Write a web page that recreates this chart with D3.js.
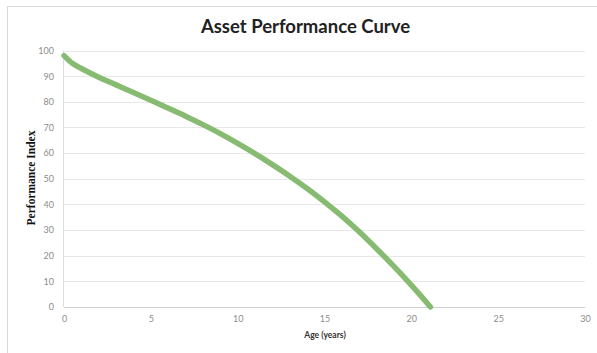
<!DOCTYPE html>
<html><head><meta charset="utf-8">
<script src="https://cdn.jsdelivr.net/npm/d3@7"></script>
<style>html,body{margin:0;padding:0;background:#fff;overflow:hidden}</style>
</head><body>
<svg id="c" width="597" height="353"></svg>
<script>
const ages =   [0, 0.5, 1, 2, 3, 4, 5, 6, 7, 8, 9, 10, 11, 12, 13, 14, 15, 16, 17, 18, 19, 20, 21, 21.1];
const perf =   [98, 94.9, 93.0, 89.6, 86.6, 83.6, 80.6, 77.5, 74.4, 71.1, 67.6, 63.8, 59.8, 55.5, 51.0, 46.2, 41.0, 35.4, 29.3, 22.7, 15.8, 8.5, 0.8, 0];
const xTicks = [0, 5, 10, 15, 20, 25, 30];
const yTicks = [0, 10, 20, 30, 40, 50, 60, 70, 80, 90, 100];
const title = "Asset Performance Curve";
const xTitle = "Age (years)";
const yTitle = "Performance Index";

const data = ages.map((a, i) => ({a, v: perf[i]}));
const svg = d3.select("#c");
const x = d3.scaleLinear().domain([0, 30]).range([64, 585]);
const y = d3.scaleLinear().domain([0, 100]).range([307, 50.5]);

// chart border
svg.append("rect").attr("x", 7.5).attr("y", 6.5).attr("width", 600).attr("height", 360)
  .attr("fill", "#fff").attr("stroke", "#d9d9d9").attr("stroke-width", 1);

// gridlines
svg.append("g").selectAll("line").data(yTicks).join("line")
  .attr("x1", x(0)).attr("x2", x(30))
  .attr("y1", d => Math.round(y(d)) + 0.5).attr("y2", d => Math.round(y(d)) + 0.5)
  .attr("stroke", d => d === 0 ? "#d0d0d0" : "#e8e8e8").attr("stroke-width", 1);
svg.append("line").attr("x1", x(0) - 0.5).attr("x2", x(0) - 0.5).attr("y1", y(100)).attr("y2", y(0))
  .attr("stroke", "#dcdcdc");

// axes labels via d3 axes
const yAxis = svg.append("g").attr("transform", `translate(${x(0)},0)`)
  .call(d3.axisLeft(y).tickValues(yTicks).tickSize(0).tickPadding(10));
const xAxis = svg.append("g").attr("transform", `translate(0,${y(0)})`)
  .call(d3.axisBottom(x).tickValues(xTicks).tickSize(0).tickPadding(9));
[yAxis, xAxis].forEach(g => {
  g.select(".domain").remove();
  g.selectAll("text").attr("fill", "#8c8c8c").style("font-family", "Lato, 'Open Sans', sans-serif").style("font-size", "9px");
});

// line
const line = d3.line().x(d => x(d.a)).y(d => y(d.v)).curve(d3.curveCatmullRom.alpha(0.5));
svg.append("path").datum(data).attr("d", line)
  .attr("fill", "none").attr("stroke", "#86bb71").attr("stroke-width", 5.5)
  .attr("stroke-linecap", "round").attr("stroke-linejoin", "round");

// titles
svg.append("text").attr("x", 305.5).attr("y", 33).attr("text-anchor", "middle")
  .style("font-family", "Lato, 'Open Sans', sans-serif").style("font-weight", "bold").style("font-size", "18.5px")
  .attr("fill", "#222").text(title);
svg.append("text").attr("x", 325).attr("y", 338).attr("text-anchor", "middle")
  .style("font-family", "Lato, 'Open Sans', sans-serif").style("font-weight", "bold").style("font-size", "8.5px")
  .attr("fill", "#333").text(xTitle);
svg.append("text").attr("transform", "translate(35,178) rotate(-90)").attr("text-anchor", "middle")
  .style("font-family", "'Liberation Serif', serif").style("font-weight", "bold").style("font-size", "11.5px")
  .attr("fill", "#111").text(yTitle);
</script>
</body></html>
